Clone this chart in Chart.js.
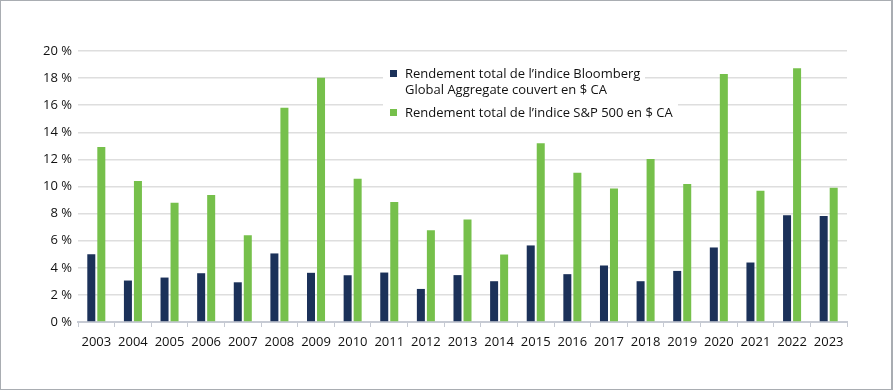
<!DOCTYPE html>
<html><head><meta charset="utf-8">
<script src="https://cdn.jsdelivr.net/npm/chart.js@4.4.0/dist/chart.umd.min.js"></script>
<style>
html,body{margin:0;padding:0;background:#fff;}
#wrap{position:relative;width:893px;height:390px;overflow:hidden;background:#fff;}
#c{position:absolute;left:0;top:0;}
#frame{position:absolute;left:0;top:0;width:893px;height:390px;box-sizing:border-box;border:1px solid #a9adb2;border-right-width:2px;pointer-events:none;}
#legend{position:absolute;left:383px;top:65px;font-family:"Open Sans",sans-serif;font-size:13px;line-height:16px;color:#111;}
.item{display:table;background:#fff;position:relative;padding:0 5px 0 22px;}
.item+.item{margin-top:7px;}
.sw{position:absolute;left:7px;top:4.5px;width:7px;height:7px;}
</style></head>
<body>
<div id="wrap">
<canvas id="c" width="893" height="390"></canvas>
<div id="legend"></div>
<div id="frame"></div>
</div>
<script>
const years = ['2003','2004','2005','2006','2007','2008','2009','2010','2011','2012','2013','2014','2015','2016','2017','2018','2019','2020','2021','2022','2023'];
const bloomberg = [5.00,3.06,3.28,3.60,2.93,5.06,3.63,3.45,3.65,2.44,3.46,3.01,5.65,3.53,4.17,3.01,3.77,5.50,4.39,7.87,7.82];
const sp500 = [12.92,10.41,8.80,9.37,6.41,15.81,18.03,10.58,8.85,6.78,7.57,4.98,13.19,11.02,9.86,12.03,10.18,18.30,9.69,18.72,9.91];
const yTicks = [0,2,4,6,8,10,12,14,16,18,20];
const seriesNames = ['Rendement total de l\u2019indice Bloomberg\nGlobal Aggregate couvert en $ CA', 'Rendement total de l\u2019indice S&P 500 en $ CA'];
const colors = ['#1b3159', '#76c04b'];

const FONT = 'Open Sans';

const lg = document.getElementById('legend');
seriesNames.forEach((n,i)=>{
  const d=document.createElement('div'); d.className='item';
  const sw=document.createElement('span'); sw.className='sw'; sw.style.background=colors[i];
  d.appendChild(sw);
  n.split('\n').forEach((ln,j)=>{ if(j) d.appendChild(document.createElement('br')); d.appendChild(document.createTextNode(ln)); });
  lg.appendChild(d);
});

new Chart(document.getElementById('c'), {
  type:'bar',
  data:{labels:years, datasets:[
    {label:seriesNames[0], data:bloomberg, backgroundColor:colors[0], categoryPercentage:0.547, barPercentage:0.8},
    {label:seriesNames[1], data:sp500, backgroundColor:colors[1], categoryPercentage:0.547, barPercentage:0.8}
  ]},
  options:{
    responsive:false, animation:false,
    layout:{padding:{top:51,right:46,left:0,bottom:0}},
    plugins:{legend:{display:false}, tooltip:{enabled:false}},
    scales:{
      x:{
        afterFit:s=>{s.height=68;},
        grid:{display:true, drawOnChartArea:false, drawTicks:true, tickLength:5, color:'#c6cad3', lineWidth:1, offset:true},
        border:{display:true, color:'#c6cad3', width:2},
        ticks:{color:'#111', font:{family:FONT, size:13}, padding:7, maxRotation:0, autoSkip:false}
      },
      y:{
        min:0, max:20,
        afterFit:s=>{s.width=78;},
        afterBuildTicks:s=>{s.ticks=yTicks.map(v=>({value:v}));},
        grid:{color:'#dedede', lineWidth:1.5, drawTicks:false},
        border:{display:false},
        ticks:{color:'#111', font:{family:FONT, size:13}, padding:6, callback:v=>v+'\u00a0%'}
      }
    }
  }
});
</script>
</body></html>
